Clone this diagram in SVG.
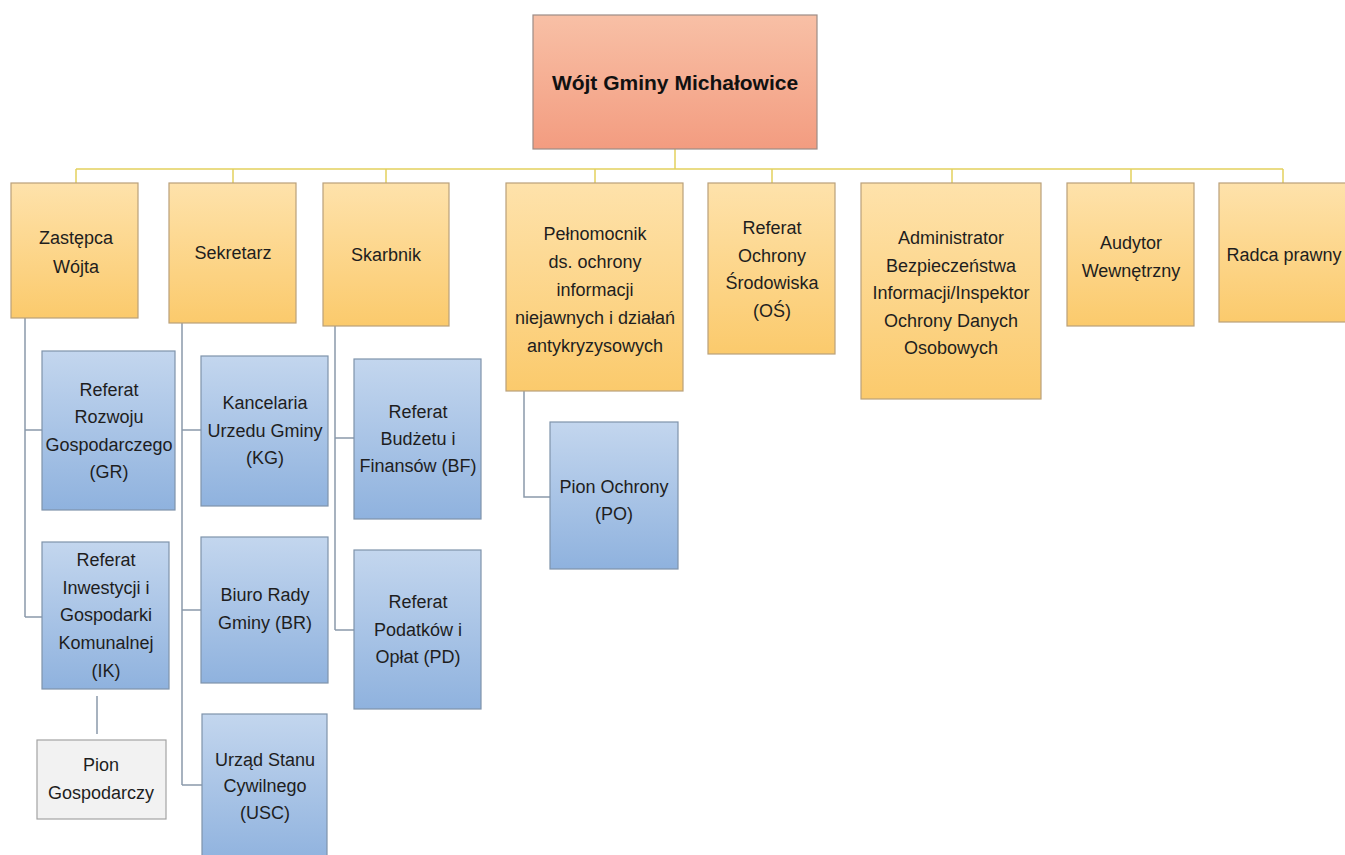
<svg xmlns="http://www.w3.org/2000/svg" width="1345" height="855" viewBox="0 0 1345 855">
<defs>
<linearGradient id="gOr" x1="0" y1="0" x2="0" y2="1"><stop offset="0" stop-color="#fee2ab"/><stop offset="1" stop-color="#fbca6c"/></linearGradient>
<linearGradient id="gBl" x1="0" y1="0" x2="0" y2="1"><stop offset="0" stop-color="#c3d6ee"/><stop offset="1" stop-color="#8fb2de"/></linearGradient>
<linearGradient id="gTop" x1="0" y1="0" x2="0" y2="1"><stop offset="0" stop-color="#f8c0a6"/><stop offset="1" stop-color="#f39c80"/></linearGradient>
<style>
.or{fill:url(#gOr);stroke:#b9a07a;stroke-width:1.2}
.bl{fill:url(#gBl);stroke:#7f93ab;stroke-width:1.2}
.gr{fill:#f2f2f2;stroke:#a3a3a3;stroke-width:1.2}
.top{fill:url(#gTop);stroke:#9c8c86;stroke-width:1.2}
.t{font-family:"Liberation Sans",Arial,sans-serif;font-size:18px;fill:#1e1e1e;text-anchor:middle}
.tb{font-family:"Liberation Sans",Arial,sans-serif;font-size:21px;font-weight:bold;fill:#111;text-anchor:middle}
.cy{fill:none;stroke:#e3d15e;stroke-width:1.5}
.cg{fill:none;stroke:#8a99aa;stroke-width:1.5}
</style>
</defs>
<rect width="1345" height="855" fill="#ffffff"/>
<g id="connectors">
<path class="cy" d="M675 149V169M76 169H1283M76 169V183M233 169V183M386 169V183M595 169V183M772 169V183M952 169V183M1131 169V183M1283 169V183"/>
<path class="cg" d="M25 318V617M25 430H42M25 617H42"/>
<path class="cg" d="M182 323V785M182 430H201M182 610H201M182 785H202"/>
<path class="cg" d="M335 326V630M335 438H354M335 630H354"/>
<path class="cg" d="M524 391V497H550"/>
<path class="cg" d="M97 696V734"/>
</g>
<g id="wojt"><rect class="top" x="533" y="15" width="284" height="134"/><text class="tb" x="675" y="90">Wójt Gminy Michałowice</text></g>
<g id="zastepca"><rect class="or" x="11" y="183" width="127" height="135"/><text class="t" x="76" y="244">Zastępca</text><text class="t" x="76" y="273">Wójta</text></g>
<g id="sekretarz"><rect class="or" x="169" y="183" width="127" height="140"/><text class="t" x="233" y="259">Sekretarz</text></g>
<g id="skarbnik"><rect class="or" x="323" y="183" width="126" height="143"/><text class="t" x="386" y="261">Skarbnik</text></g>
<g id="pelnomocnik"><rect class="or" x="506" y="183" width="177" height="208"/><text class="t" x="595" y="240">Pełnomocnik</text><text class="t" x="595" y="268">ds. ochrony</text><text class="t" x="595" y="296">informacji</text><text class="t" x="595" y="324">niejawnych i działań</text><text class="t" x="595" y="352">antykryzysowych</text></g>
<g id="os"><rect class="or" x="708" y="183" width="127" height="171"/><text class="t" x="772" y="234">Referat</text><text class="t" x="772" y="261.5">Ochrony</text><text class="t" x="772" y="289">Środowiska</text><text class="t" x="772" y="317">(OŚ)</text></g>
<g id="abi"><rect class="or" x="861" y="183" width="180" height="216"/><text class="t" x="951" y="244">Administrator</text><text class="t" x="951" y="272">Bezpieczeństwa</text><text class="t" x="951" y="299">Informacji/Inspektor</text><text class="t" x="951" y="327">Ochrony Danych</text><text class="t" x="951" y="354">Osobowych</text></g>
<g id="audytor"><rect class="or" x="1067" y="183" width="127" height="143"/><text class="t" x="1131" y="249">Audytor</text><text class="t" x="1131" y="277">Wewnętrzny</text></g>
<g id="radca"><rect class="or" x="1219" y="183" width="128" height="139"/><text class="t" x="1284" y="261">Radca prawny</text></g>
<g id="gr"><rect class="bl" x="42" y="351" width="133" height="159"/><text class="t" x="109" y="396">Referat</text><text class="t" x="109" y="423">Rozwoju</text><text class="t" x="109" y="451">Gospodarczego</text><text class="t" x="109" y="478">(GR)</text></g>
<g id="ik"><rect class="bl" x="42" y="542" width="127" height="147"/><text class="t" x="106" y="566">Referat</text><text class="t" x="106" y="594">Inwestycji i</text><text class="t" x="106" y="621">Gospodarki</text><text class="t" x="106" y="649">Komunalnej</text><text class="t" x="106" y="677">(IK)</text></g>
<g id="pion-gosp"><rect class="gr" x="37" y="740" width="129" height="79"/><text class="t" x="101" y="771">Pion</text><text class="t" x="101" y="799">Gospodarczy</text></g>
<g id="kg"><rect class="bl" x="201" y="356" width="127" height="150"/><text class="t" x="265" y="409">Kancelaria</text><text class="t" x="265" y="437">Urzedu Gminy</text><text class="t" x="265" y="464">(KG)</text></g>
<g id="br"><rect class="bl" x="201" y="537" width="127" height="146"/><text class="t" x="265" y="601">Biuro Rady</text><text class="t" x="265" y="629">Gminy (BR)</text></g>
<g id="usc"><rect class="bl" x="202" y="714" width="125" height="150"/><text class="t" x="265" y="766">Urząd Stanu</text><text class="t" x="265" y="792">Cywilnego</text><text class="t" x="265" y="819">(USC)</text></g>
<g id="bf"><rect class="bl" x="354" y="359" width="127" height="160"/><text class="t" x="418" y="418">Referat</text><text class="t" x="418" y="445">Budżetu i</text><text class="t" x="418" y="472">Finansów (BF)</text></g>
<g id="pd"><rect class="bl" x="354" y="550" width="127" height="159"/><text class="t" x="418" y="608">Referat</text><text class="t" x="418" y="636">Podatków i</text><text class="t" x="418" y="663">Opłat (PD)</text></g>
<g id="po"><rect class="bl" x="550" y="422" width="128" height="147"/><text class="t" x="614" y="493">Pion Ochrony</text><text class="t" x="614" y="520">(PO)</text></g>
</svg>
